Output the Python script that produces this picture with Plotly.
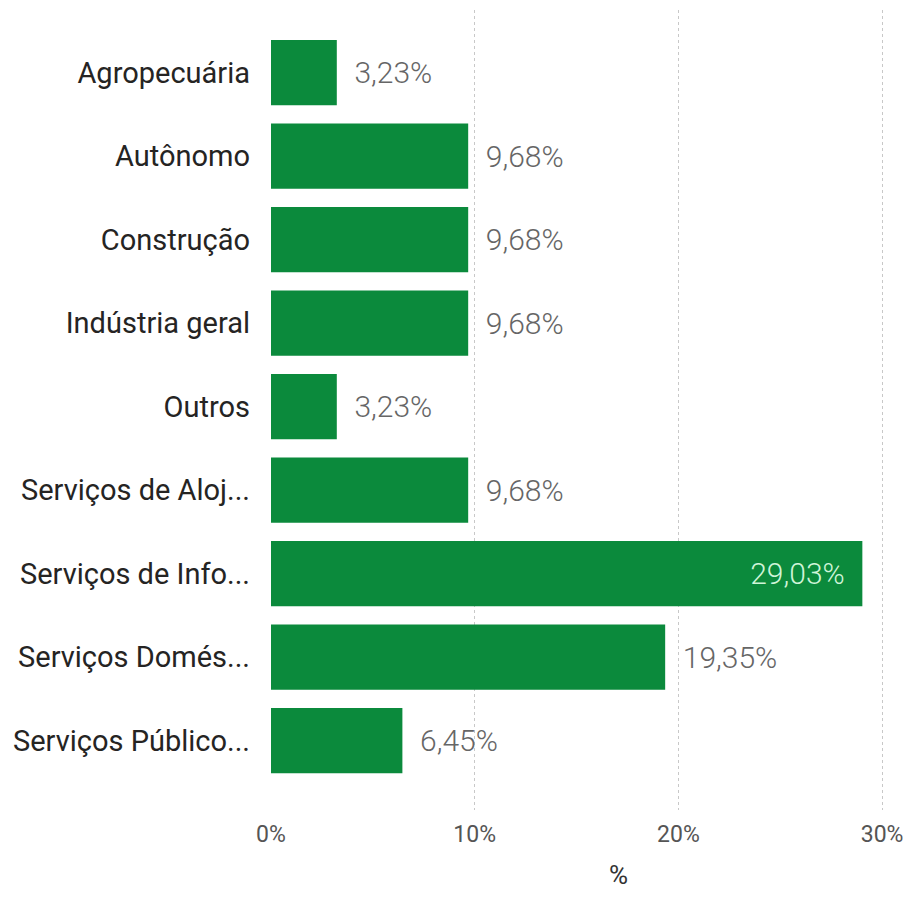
import plotly.graph_objects as go

# categories and percentages (31 respondents)
categorias = ["Agropecuária", "Autônomo", "Construção", "Indústria geral", "Outros",
              "Serviços de Aloj...", "Serviços de Info...", "Serviços Domés...",
              "Serviços Público..."]
percentuais = [3.23, 9.68, 9.68, 9.68, 3.23, 9.68, 29.03, 19.35, 6.45]
ticks_x = [0, 10, 20, 30]
ticks_txt = ["0%", "10%", "20%", "30%"]

verde = "#0B8A3C"
fonte = "Roboto"

# biggest bar carries its label inside, the others outside
posicoes = ["inside" if v == max(percentuais) else "outside" for v in percentuais]
cores_texto = ["#CFF5D8" if p == "inside" else "#666666" for p in posicoes]

fig = go.Figure(go.Bar(
    x=percentuais,
    y=categorias,
    orientation="h",
    marker=dict(color=verde, line=dict(width=0)),
    texttemplate="\u00a0\u00a0%{x:.2f}%\u00a0\u00a0",
    textposition=posicoes,
    insidetextanchor="end",
    textfont=dict(family=fonte, size=30, color=cores_texto, weight=300),
    cliponaxis=False,
))

fig.update_layout(
    width=912, height=898,
    margin=dict(l=263, r=0, t=2, b=96),
    paper_bgcolor="white", plot_bgcolor="white",
    separators=",.",
    bargap=0.22,
    showlegend=False,
    font=dict(family=fonte),
)

fig.update_xaxes(
    range=[0, 31.86],
    tickmode="array", tickvals=ticks_x, ticktext=ticks_txt,
    showgrid=True, gridcolor="#C8C8C8", griddash="dot", gridwidth=1,
    zeroline=False, showline=False, automargin=False,
    tickfont=dict(family=fonte, size=23, color="#555555"),
    ticklabelstandoff=8,
)

fig.update_yaxes(
    categoryorder="array", categoryarray=categorias,
    range=[8.83, -0.75],
    showgrid=False, zeroline=False, showline=False, automargin=False,
    tickfont=dict(family=fonte, size=29, color="#252423"),
    ticklabelstandoff=20,
)

fig.add_annotation(
    text="%", x=0.536, y=-0.081, xref="paper", yref="paper",
    xanchor="center", yanchor="middle",
    showarrow=False, font=dict(family=fonte, size=26, color="#333333"),
)

fig.write_html("out.html")
